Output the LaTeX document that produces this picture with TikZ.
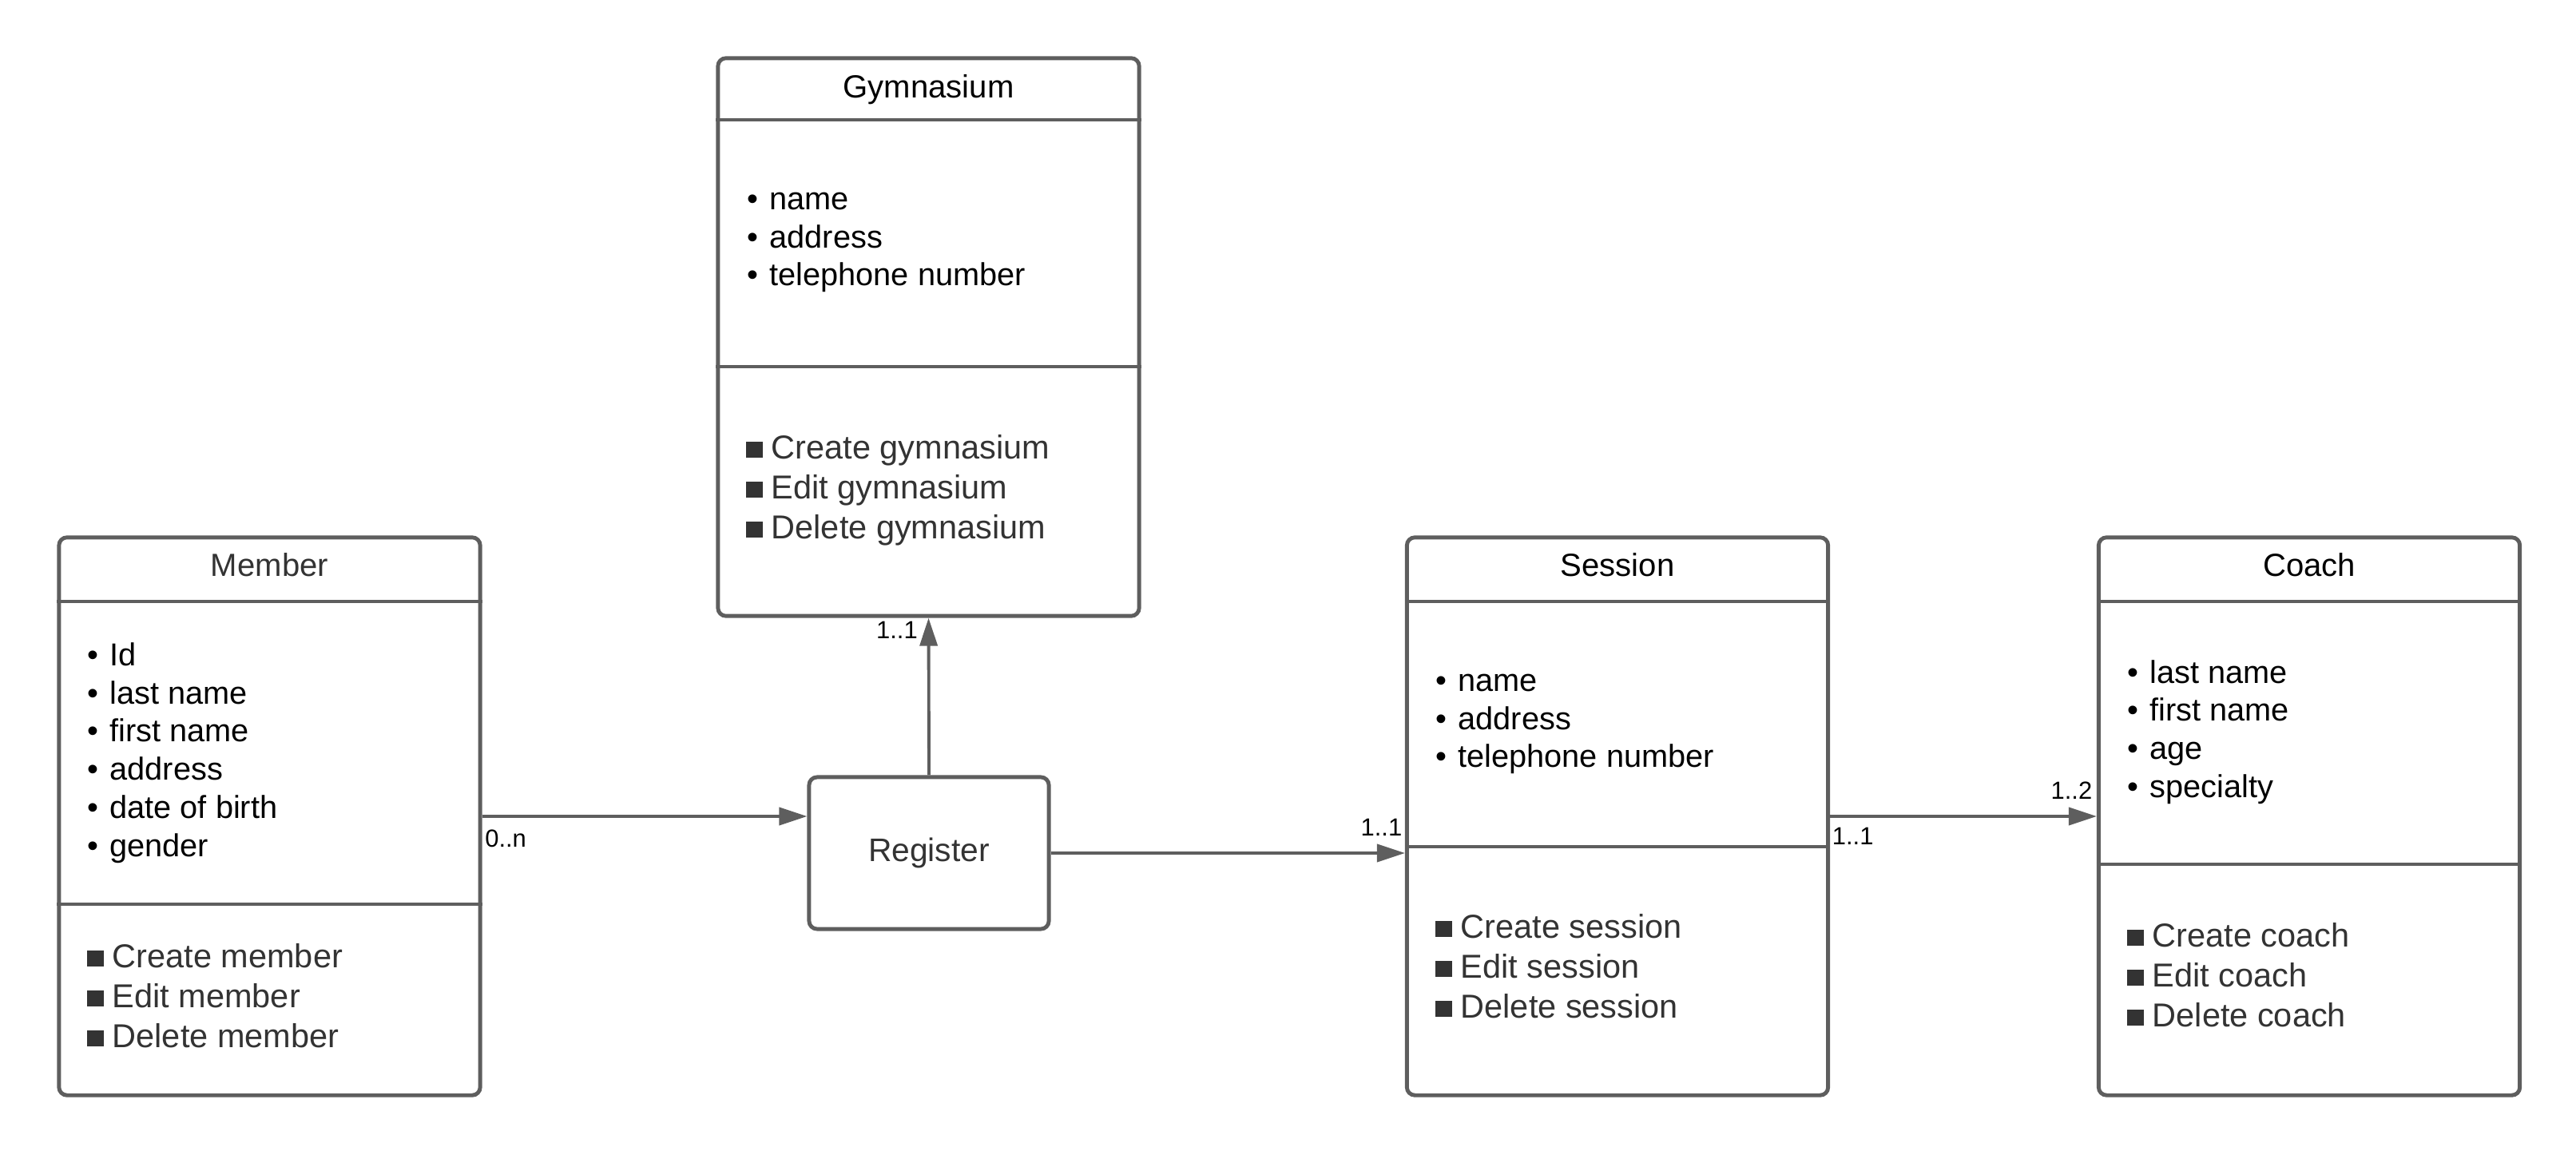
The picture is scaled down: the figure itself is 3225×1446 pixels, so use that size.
\documentclass[tikz,border=0pt]{standalone}
\usepackage{fontspec}
\setmainfont{Liberation Sans}
\usepackage{xcolor}
\usetikzlibrary{arrows.meta}
\definecolor{linegray}{HTML}{5E5E5E}
\definecolor{darktext}{HTML}{333333}
\tikzset{classbox/.style={draw=linegray, line width=1.4pt, rounded corners=0.1cm,
   fill=white, minimum width=5.27cm, minimum height=6.98cm},
 regbox/.style={draw=linegray, line width=1.4pt, rounded corners=0.1cm,
   minimum width=3cm, minimum height=1.9cm, text=darktext,
   font=\fontsize{11.6}{13.6}\selectfont},
 divider/.style={draw=linegray, line width=1.4pt},
 conn/.style={draw=linegray, line width=1.1pt,
   -{Triangle[length=0.35cm,width=0.22cm]}},
 classtitle/.style={font=\fontsize{11.4}{13.6}\selectfont},
 attrs/.style={anchor=west, align=left, inner sep=0,
   font=\fontsize{11.3}{13.6}\selectfont},
 meths/.style={anchor=west, align=left, inner sep=0, text=darktext,
   font=\fontsize{11.8}{14.2}\selectfont},
 mult/.style={inner sep=0, font=\fontsize{8.8}{10}\selectfont},
 }
\newcommand{\attr}[1]{\textbullet\hspace{0.35em}#1}
\newcommand{\meth}[1]{\rule[0.01cm]{0.21cm}{0.2cm}\hspace{0.11cm}#1}

\begin{document}
\begin{tikzpicture}[x=0.01cm, y=-0.01cm]
        \useasboundingbox (0,0) rectangle (3225,1446);

        % Member
        \node[classbox] (member) at (337.5,1022) {};
        \draw[divider] (member.west |- 0,753) -- (member.east |- 0,753);
        \draw[divider] (member.west |- 0,1132) -- (member.east |- 0,1132);
        \node[classtitle, text=darktext] (membertitle) at (337.5,707) {Member};
        \node[attrs] (memberattrs) at (109,942.5) {\attr{Id}\\ \attr{last name}\\
          \attr{first name}\\ \attr{address}\\ \attr{date of birth}\\ \attr{gender}};
        \node[meths] (membermeths) at (108,1246.5) {\meth{Create member}\\
          \meth{Edit member}\\ \meth{Delete member}};

        % Gymnasium
        \node[classbox] (gym) at (1162.5,422) {};
        \draw[divider] (gym.west |- 0,150) -- (gym.east |- 0,150);
        \draw[divider] (gym.west |- 0,459) -- (gym.east |- 0,459);
        \node[classtitle] (gymtitle) at (1162.5,112) {Gymnasium};
        \node[attrs] (gymattrs) at (935,303.5) {\attr{name}\\ \attr{address}\\
          \attr{telephone number}};
        \node[meths] (gymmeths) at (933,613.5) {\meth{Create gymnasium}\\
          \meth{Edit gymnasium}\\ \meth{Delete gymnasium}};

        % Register
        \node[regbox] (register) at (1163,1068) {\raisebox{0.08cm}{Register}};

        % Session
        \node[classbox] (session) at (2025,1022) {};
        \draw[divider] (session.west |- 0,753) -- (session.east |- 0,753);
        \draw[divider] (session.west |- 0,1060) -- (session.east |- 0,1060);
        \node[classtitle] (sessiontitle) at (2025,707) {Session};
        \node[attrs] (sessionattrs) at (1797,906.5) {\attr{name}\\ \attr{address}\\
          \attr{telephone number}};
        \node[meths] (sessionmeths) at (1796,1209.5) {\meth{Create session}\\
          \meth{Edit session}\\ \meth{Delete session}};

        % Coach
        \node[classbox] (coach) at (2891,1022) {};
        \draw[divider] (coach.west |- 0,753) -- (coach.east |- 0,753);
        \draw[divider] (coach.west |- 0,1082) -- (coach.east |- 0,1082);
        \node[classtitle] (coachtitle) at (2891,707) {Coach};
        \node[attrs] (coachattrs) at (2663,916.5) {\attr{last name}\\ \attr{first name}\\
          \attr{age}\\ \attr{specialty}};
        \node[meths] (coachmeths) at (2662,1220.5) {\meth{Create coach}\\
          \meth{Edit coach}\\ \meth{Delete coach}};

        % connectors
        \coordinate (regin) at (member.east -| register.west);
        \coordinate (sesin) at (register.east -| session.west);
        \draw[conn] (member.east) -- (regin);
        \draw[conn] (register.north) -- (gym.south);
        \draw[conn] (register.east) -- (sesin);
        \draw[conn] (session.east) -- (coach.west);

        \node[mult, anchor=base west] (memberend) at ([xshift=0.03cm,yshift=-0.38cm]member.east) {0..n};
        \node[mult, anchor=base east] (gymend) at ([xshift=-0.13cm,yshift=-0.26cm]gym.south) {1..1};
        \node[mult, anchor=base east] (sessionin) at ([xshift=-0.03cm,yshift=0.21cm]sesin) {1..1};
        \node[mult, anchor=base west] (sessionout) at ([xshift=0.02cm,yshift=-0.35cm]session.east) {1..1};
        \node[mult, anchor=base east] (coachend) at ([xshift=-0.05cm,yshift=0.21cm]coach.west) {1..2};
\end{tikzpicture}
\end{document}
